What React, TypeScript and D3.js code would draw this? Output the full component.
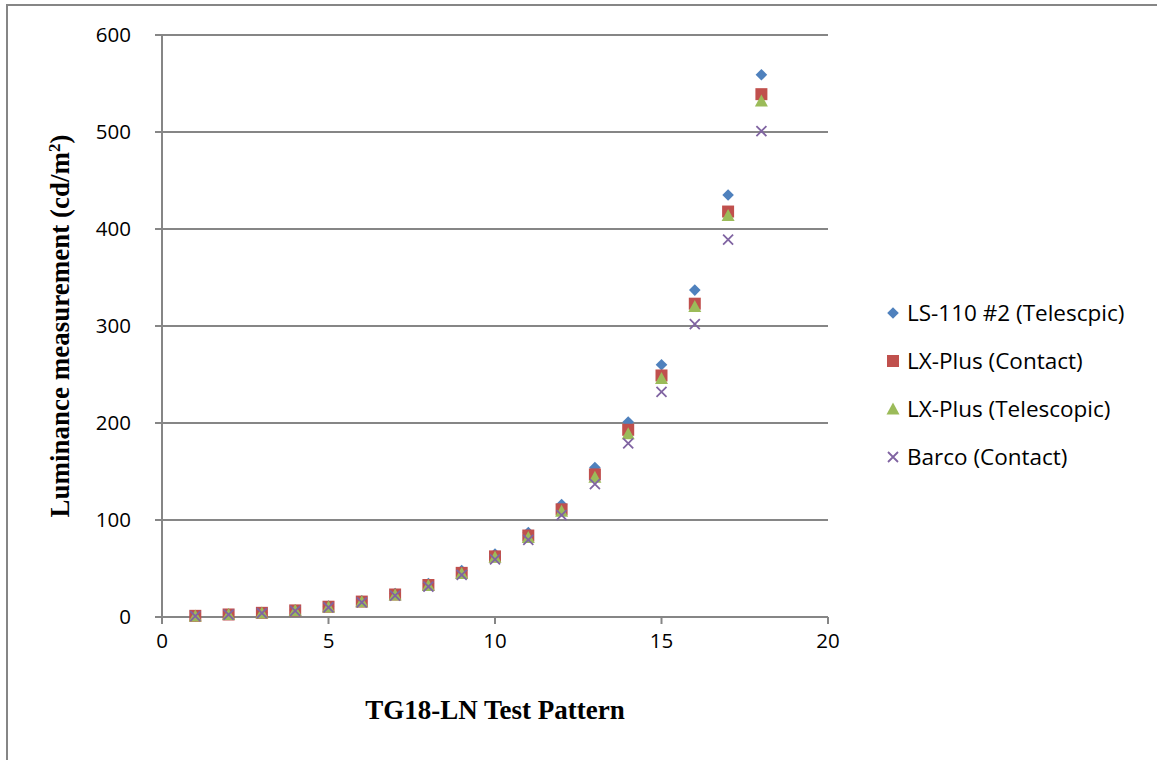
import React from "react";
import * as d3 from "d3";

const patterns = [1, 2, 3, 4, 5, 6, 7, 8, 9, 10, 11, 12, 13, 14, 15, 16, 17, 18];
const ls110Telescopic = [1.3, 2.8, 4.6, 7.2, 11.2, 16.6, 24.2, 34.5, 48, 65, 87, 116, 154, 201, 260, 337, 435, 559];
const lxPlusContact = [1.2, 2.6, 4.3, 6.8, 10.6, 15.9, 23.2, 33.0, 45.5, 62.5, 84, 111, 147, 193, 249, 323, 418, 539];
const lxPlusTelescopic = [1.1, 2.5, 4.2, 6.7, 10.4, 15.6, 22.8, 32.4, 44.8, 61.5, 82, 109, 144, 189, 246, 320, 414, 532];
const barcoContact = [1.0, 2.4, 4.0, 6.4, 10.0, 15.0, 22.0, 31.2, 43.5, 59.5, 79.5, 105, 137, 179, 232, 302, 389, 501];

const seriesNames = ["LS-110 #2 (Telescpic)", "LX-Plus (Contact)", "LX-Plus (Telescopic)", "Barco (Contact)"];
const seriesColors = ["#4F81BD", "#C0504D", "#9BBB59", "#8064A2"];
const seriesShapes = ["diamond", "square", "triangle", "x"];
const xTicks = [0, 5, 10, 15, 20];
const yTicks = [0, 100, 200, 300, 400, 500, 600];

const W = 1158;
const H = 760;
const left = 162, right = 828, top = 35, bottom = 617;

function markerPath(shape: string): string {
  if (shape === "diamond") return "M0,-5.8L5.8,0L0,5.8L-5.8,0Z";
  if (shape === "square") return "M-6,-6H6V6H-6Z";
  if (shape === "triangle") return "M0,-6.5L6.5,5.5H-6.5Z";
  return "M-5,-5L5,5M-5,5L5,-5";
}

function Marker({ shape, color, x, y }: { shape: string; color: string; x: number; y: number }) {
  const d = markerPath(shape);
  if (shape === "x") {
    return <path d={d} transform={`translate(${x},${y})`} stroke={color} strokeWidth={1.8} fill="none" />;
  }
  return <path d={d} transform={`translate(${x},${y})`} fill={color} />;
}

export default function App() {
  const x = d3.scaleLinear().domain([0, 20]).range([left, right]);
  const y = d3.scaleLinear().domain([0, 600]).range([bottom, top]);
  const allSeries = [ls110Telescopic, lxPlusContact, lxPlusTelescopic, barcoContact];
  const axisColor = "#868686";
  const sans = "'Open Sans', 'Liberation Sans', Arial, sans-serif";
  const serif = "'Liberation Serif', 'Times New Roman', serif";

  return (
    <svg width={W} height={H} style={{ position: "absolute", left: 0, top: 0, background: "#fff" }}>
      <rect x={0} y={0} width={W} height={H} fill="#fff" />
      <path d={`M7,${H}V5H1157`} fill="none" stroke={axisColor} strokeWidth={2} />
      {yTicks.map((t) => (
        <g key={"y" + t}>
          {t > 0 && <line x1={left} x2={right} y1={y(t)} y2={y(t)} stroke={axisColor} strokeWidth={2} />}
          <line x1={left - 7} x2={left} y1={y(t)} y2={y(t)} stroke={axisColor} strokeWidth={2} />
          <text x={131} y={y(t)} dy="0.36em" textAnchor="end" fontFamily={sans} fontSize={20.5} fill="#000">
            {t}
          </text>
        </g>
      ))}
      {xTicks.map((t) => (
        <g key={"x" + t}>
          <line x1={x(t)} x2={x(t)} y1={bottom} y2={bottom + 7} stroke={axisColor} strokeWidth={2} />
          <text x={x(t)} y={bottom + 24} dy="0.36em" textAnchor="middle" fontFamily={sans} fontSize={20.5} fill="#000">
            {t}
          </text>
        </g>
      ))}
      <line x1={left} x2={left} y1={top} y2={bottom + 7} stroke={axisColor} strokeWidth={2} />
      <line x1={left - 7} x2={right} y1={bottom} y2={bottom} stroke={axisColor} strokeWidth={2} />
      {allSeries.map((vals, si) => (
        <g key={"s" + si}>
          {vals.map((v, i) => (
            <Marker key={i} shape={seriesShapes[si]} color={seriesColors[si]} x={x(patterns[i])} y={y(v)} />
          ))}
        </g>
      ))}
      <text x={(left + right) / 2} y={719} textAnchor="middle" fontFamily={serif} fontWeight="bold" fontSize={27} fill="#000">
        TG18-LN Test Pattern
      </text>
      <text
        transform={`translate(69,${(top + bottom) / 2}) rotate(-90)`}
        textAnchor="middle"
        fontFamily={serif}
        fontWeight="bold"
        fontSize={27}
        fill="#000"
      >
        Luminance measurement (cd/m<tspan dy="-9" fontSize={17}>2</tspan><tspan dy="9">)</tspan>
      </text>
      {seriesNames.map((name, i) => (
        <g key={"l" + i} transform={`translate(893,${313 + i * 48})`}>
          <Marker shape={seriesShapes[i]} color={seriesColors[i]} x={0} y={0} />
          <text x={14} y={0} dy="0.36em" fontFamily={sans} fontSize={22.5} fill="#000">
            {name}
          </text>
        </g>
      ))}
    </svg>
  );
}
